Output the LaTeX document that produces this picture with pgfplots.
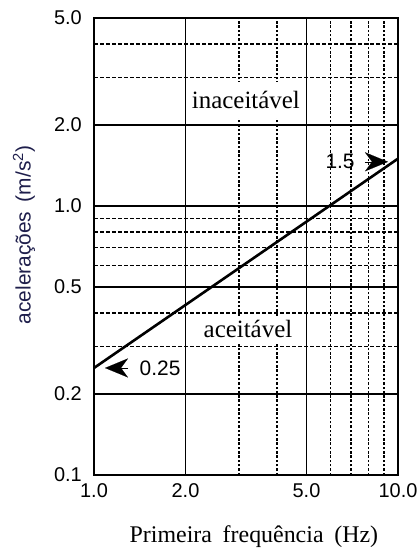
\documentclass[border=0pt]{standalone}
\usepackage{fontspec}
\setmainfont{Liberation Serif}
\setsansfont{Liberation Sans}
\usepackage{pgfplots}
\pgfplotsset{compat=1.18}
\usetikzlibrary{arrows.meta}
\definecolor{navy}{RGB}{30,30,75}

\begin{document}
\begin{tikzpicture}
\path[use as bounding box] (-94bp,-73bp) rectangle (323bp,475bp);
\begin{axis}[
  at={(0,0)}, anchor=south west,
  scale only axis, width=304bp, height=457bp,
  xmode=log, ymode=log,
  xmin=1, xmax=10, ymin=0.1, ymax=5,
  xtick={1,2,5,10}, xticklabels={1.0,2.0,5.0,10.0},
  ytick={0.1,0.2,0.5,1,2,5}, yticklabels={0.1,0.2,0.5,1.0,2.0,5.0},
  minor ytick={0.3,0.4,0.6,0.7,0.8,0.9,3,4},
  xmajorgrids=true, ymajorgrids=true, yminorgrids=true, xminorgrids=false,
  extra x ticks={3,4,6,7,8,9}, extra x tick labels={,,,,,},
  extra x tick style={xmajorgrids=true, major grid style={black, line width=1.4bp, dash pattern=on 2.5bp off 1.8bp}},
  major grid style={black, line width=1.5bp},
  minor grid style={black, line width=1.2bp, dash pattern=on 4bp off 2bp},
  major tick length=0pt, minor tick length=0pt,
  axis line style={line width=2bp},
  tick label style={font=\sffamily\fontsize{20}{20}\selectfont, inner sep=0pt},
  xticklabel style={yshift=-8bp},
  yticklabel style={xshift=-12bp},
  xlabel={Primeira\hspace{0.45em}frequência\hspace{0.45em}(Hz)},
  ylabel={acelerações\hspace{0.45em}(m/s\textsuperscript{2})},
  xlabel style={at={(axis description cs:0.526,-0.1357)}, anchor=center, font=\rmfamily\fontsize{24}{24}\selectfont, inner sep=0pt},
  ylabel style={at={(axis description cs:-0.230,0.525)}, anchor=center, font=\sffamily\fontsize{21}{21}\selectfont, text=navy, inner sep=0pt},
  clip=false,
]
\addplot[black, line width=2.6bp] coordinates {(1,0.25) (10,1.5)};

\node[font=\rmfamily\fontsize{25}{25}\selectfont, fill=white, inner xsep=2bp, inner ysep=9bp] at (axis cs:3.16,2.48) {inaceitável};
\node[font=\rmfamily\fontsize{25}{25}\selectfont, fill=white, inner xsep=2bp, inner ysep=4bp] at (axis cs:3.21,0.349) {aceitável};
\node[font=\sffamily\fontsize{21}{21}\selectfont] at (axis cs:6.45,1.46) {1.5};
\node[font=\sffamily\fontsize{21}{21}\selectfont] at (axis cs:1.65,0.25) {0.25};
\draw[black, line width=0.1bp, -{Stealth[length=23bp, width=19bp, inset=7bp]}] ([xshift=-23bp]axis cs:9.27,1.46) -- (axis cs:9.27,1.46);
\draw[black, line width=0.1bp, -{Stealth[length=23bp, width=19bp, inset=7bp]}] ([xshift=23bp]axis cs:1.087,0.25) -- (axis cs:1.087,0.25);
\end{axis}
\end{tikzpicture}
\end{document}
